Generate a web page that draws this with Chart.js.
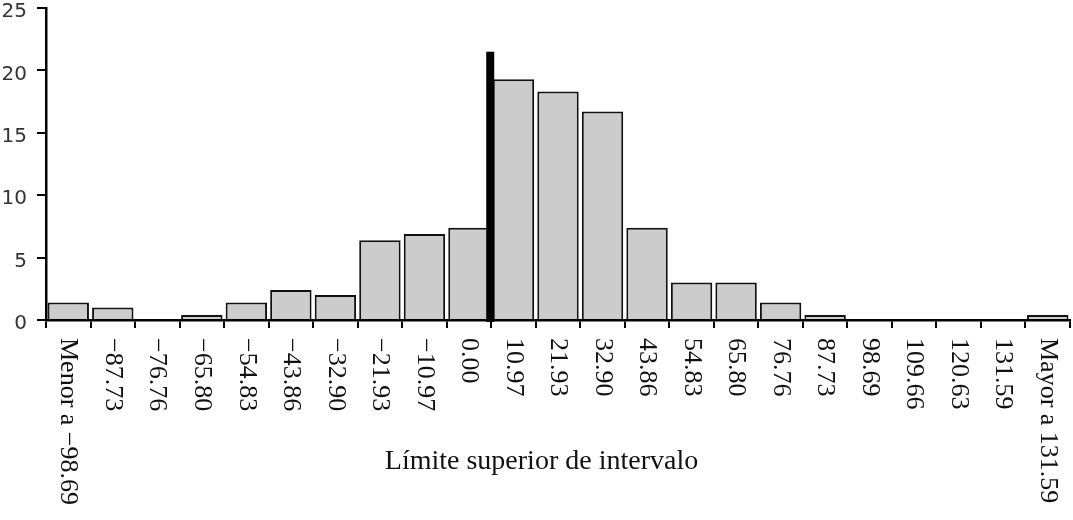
<!DOCTYPE html>
<html>
<head>
<meta charset="utf-8">
<script src="https://cdn.jsdelivr.net/npm/chart.js@4"></script>
<style>
  html, body { margin: 0; padding: 0; background: #fff; }
  #wrap { width: 1073px; height: 520px; }
</style>
</head>
<body>
<div id="wrap"><canvas id="histo"></canvas></div>
<script>
// Límites superiores de intervalo (eje x)
var categorias = [
    'Menor a \u221298.69', '\u221287.73', '\u221276.76', '\u221265.80', '\u221254.83',
    '\u221243.86', '\u221232.90', '\u221221.93', '\u221210.97', '0.00',
    '10.97', '21.93', '32.90', '43.86', '54.83', '65.80', '76.76', '87.73',
    '98.69', '109.66', '120.63', '131.59', 'Mayor a 131.59'
];

// Frecuencia relativa (%) por intervalo
var frecuencias = [
    1.4, 1.0, 0, 0.4, 1.4, 2.4, 2.0, 6.4, 6.9, 7.4,
    19.3, 18.3, 16.7, 7.4, 3.0, 3.0, 1.4, 0.4, 0, 0, 0, 0, 0.4
];

var ticksY = [0, 5, 10, 15, 20, 25];

// Barra negra vertical en el límite 0 (entre "0.00" y "10.97")
var marcaIndiceAntes = 9;
var marcaAltura = 21.5;

var tituloX = 'L\u00edmite superior de intervalo';

(function () {
    'use strict';

    var fuenteSerif = '"Liberation Serif", "DejaVu Serif", serif';

    // Etiquetas giradas (se leen de arriba a abajo), título y marca vertical.
    var extras = {
        id: 'extras',
        afterDatasetsDraw: function (chart) {
            var xs = chart.scales.x, ys = chart.scales.y, ctx = chart.ctx;
            var x = (xs.getPixelForValue(marcaIndiceAntes) + xs.getPixelForValue(marcaIndiceAntes + 1)) / 2 - 1;
            var yTop = ys.getPixelForValue(marcaAltura);
            var yBot = ys.getPixelForValue(0) + 2;
            ctx.save();
            ctx.fillStyle = '#000';
            ctx.fillRect(x - 4, yTop, 8, yBot - yTop);
            ctx.restore();
        },
        afterDraw: function (chart) {
            var xs = chart.scales.x, ctx = chart.ctx;
            var y0 = chart.chartArea.bottom + 18;
            ctx.save();
            ctx.fillStyle = '#111';
            ctx.font = '26px ' + fuenteSerif;
            ctx.textAlign = 'left';
            ctx.textBaseline = 'middle';
            categorias.forEach(function (lab, i) {
                ctx.save();
                ctx.translate(xs.getPixelForValue(i), y0);
                ctx.rotate(Math.PI / 2);
                ctx.fillText(lab, 0, 0);
                ctx.restore();
            });
            ctx.font = '28px ' + fuenteSerif;
            ctx.textAlign = 'center';
            ctx.textBaseline = 'alphabetic';
            ctx.fillText(tituloX, chart.width / 2 + 5, chart.chartArea.bottom + 149);
            ctx.restore();
        }
    };

    new Chart(document.getElementById('histo'), {
        type: 'bar',
        data: {
            labels: categorias,
            datasets: [{
                data: frecuencias,
                backgroundColor: '#cccccc',
                borderColor: '#111111',
                borderWidth: 2,
                barPercentage: 0.93,
                categoryPercentage: 1.0
            }]
        },
        options: {
            responsive: true,
            maintainAspectRatio: false,
            animation: false,
            layout: { padding: { top: 8, right: 3, left: 0, bottom: 0 } },
            plugins: {
                legend: { display: false },
                tooltip: { enabled: false }
            },
            scales: {
                x: {
                    grid: {
                        offset: true,
                        drawOnChartArea: false,
                        drawTicks: true,
                        tickLength: 8,
                        lineWidth: 2,
                        color: '#000'
                    },
                    border: { display: true, color: '#000', width: 2.5 },
                    ticks: { display: false },
                    afterFit: function (scale) { scale.height = 200; }
                },
                y: {
                    min: 0,
                    max: 25,
                    afterBuildTicks: function (scale) {
                        scale.ticks = ticksY.map(function (v) { return { value: v }; });
                    },
                    grid: {
                        drawOnChartArea: false,
                        drawTicks: true,
                        tickLength: 9,
                        lineWidth: 2,
                        color: '#000'
                    },
                    border: { display: true, color: '#000', width: 2.5 },
                    ticks: {
                        padding: 10,
                        labelOffset: 4,
                        color: '#333',
                        font: { family: '"DejaVu Sans", sans-serif', size: 20 }
                    },
                    afterFit: function (scale) {
                        scale.width = 46;
                        scale.paddingTop = 0;
                        scale.paddingBottom = 0;
                    }
                }
            }
        },
        plugins: [extras]
    });
})();
</script>
</body>
</html>
